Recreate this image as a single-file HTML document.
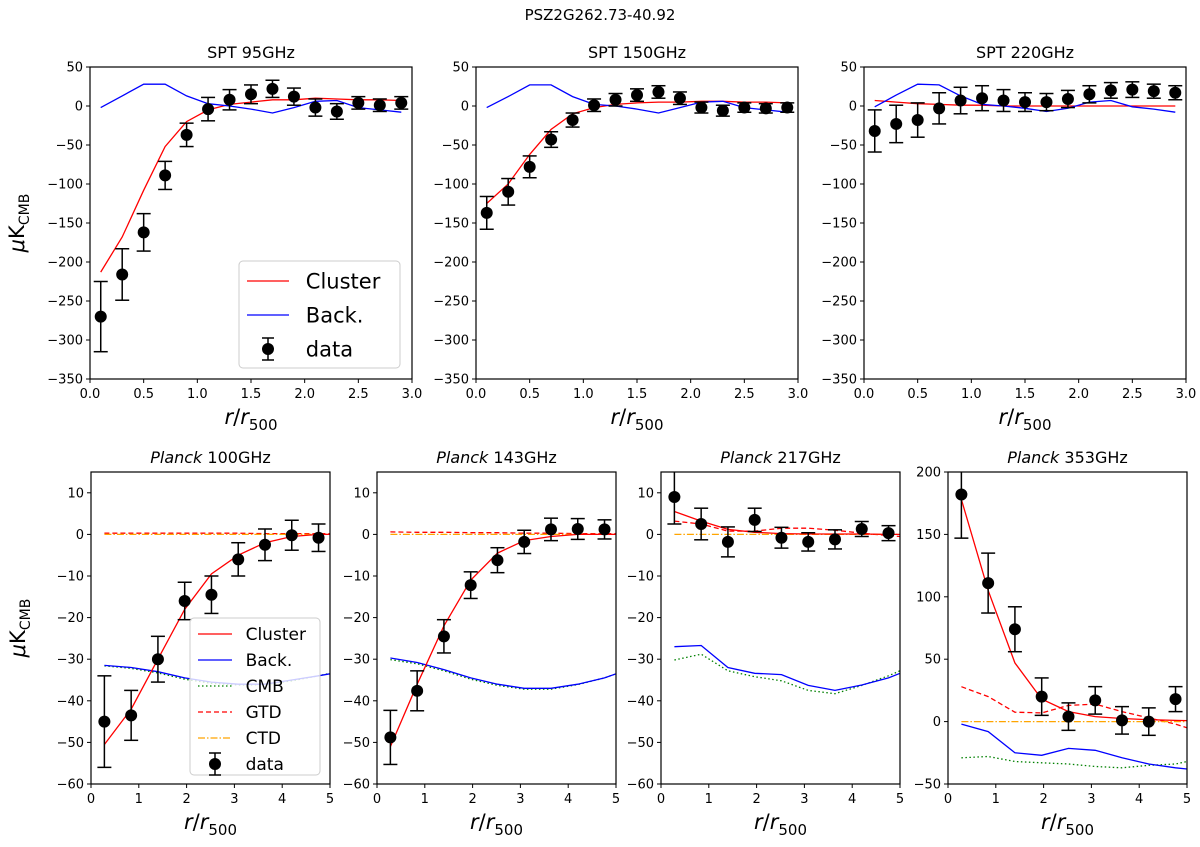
<!DOCTYPE html>
<html><head><meta charset="utf-8"><style>
body{margin:0;background:#fff}
svg text{font-family:"DejaVu Sans","Liberation Sans",sans-serif;fill:#000}
</style></head><body>
<svg id="fig" width="1200" height="842" viewBox="0 0 1200 842" xmlns="http://www.w3.org/2000/svg">
<text x="600" y="20" text-anchor="middle" font-size="15">PSZ2G262.73-40.92</text>
</svg>
<script>
const sptX=[0.1,0.3,0.5,0.7,0.9,1.1,1.3,1.5,1.7,1.9,2.1,2.3,2.5,2.7,2.9];
const spt95Data=[-270,-216,-162,-89,-37,-4,8,15,22,12,-2,-7,4,1,4];
const spt95Err=[45,33,24,18,15,15,13,12,11,11,11,10,8,8,8];
const spt95Cluster=[-213,-168,-108,-52,-20,-5,2,5,8,8,10,9,8,8,7];
const spt95Back=[-2,13,28,28,13,3,0,-4,-9,-2,6,7,-2,-5,-8];
const spt150Data=[-137,-110,-78,-43,-18,1,8,14,18,10,-2,-6,-2,-3,-2];
const spt150Err=[21,17,14,10,9,8,8,8,8,8,7,7,6,6,6];
const spt150Cluster=[-125,-100,-62,-30,-10,-2,2,4,5,5,6,6,5,5,4];
const spt150Back=[-2,12,27,27,12,2,0,-4,-9,-2,5,6,-2,-5,-8];
const spt220Data=[-32,-23,-18,-3,7,10,7,5,5,9,15,20,21,19,17];
const spt220Err=[27,24,22,20,17,16,14,12,11,11,11,10,10,9,9];
const spt220Cluster=[7,5,3,2,1,1,0,0,0,0,0,0,0,0,0];
const spt220Back=[-1,14,28,27,13,2,0,-3,-7,-3,5,7,-1,-4,-8];
const plX=[0.28,0.84,1.4,1.96,2.52,3.08,3.64,4.2,4.76];
const plLineX=[0.28,0.84,1.4,1.96,2.52,3.08,3.64,4.2,4.76,5.0];
const p100Data=[-45,-43.5,-30,-16,-14.5,-6,-2.5,-0.2,-0.8];
const p100Err=[11,6,5.5,4.5,4.5,4,3.8,3.6,3.3];
const p100Cluster=[-50.5,-42,-30,-18,-9.5,-5,-2,-0.5,0,0];
const p100Back=[-31.5,-32,-33,-34.5,-35.5,-36,-36,-35,-34,-33.5];
const p100Cmb=[-31.6,-32.2,-33.3,-34.8,-35.8,-36.2,-36.1,-35.2,-34,-33.4];
const p100Gtd=[0.3,0.3,0.3,0.3,0.3,0.3,0.2,0.2,0.2,0.2];
const p100Ctd=[0,0,0,0,0,0,0,0,0,0];
const p143Data=[-48.8,-37.6,-24.5,-12.2,-6.2,-1.8,1.2,1.3,1.2];
const p143Err=[6.5,4.8,4,3.2,3,2.8,2.7,2.5,2.3];
const p143Cluster=[-51,-36,-22,-11,-4.5,-1.5,-0.5,0,0,0];
const p143Back=[-29.7,-30.8,-32.5,-34.5,-36,-37,-37,-36,-34.5,-33.5];
const p143Cmb=[-30.1,-31.1,-32.8,-34.8,-36.3,-37.2,-37.2,-36.1,-34.5,-33.5];
const p143Gtd=[0.6,0.5,0.5,0.4,0.4,0.3,0.3,0.2,0.2,0.2];
const p143Ctd=[0,0,0,0,0,0,0,0,0,0];
const p217Data=[9,2.5,-1.8,3.5,-0.8,-1.8,-1.2,1.3,0.3];
const p217Err=[6.5,3.8,3.6,2.8,2.5,2.2,2.3,1.8,1.8];
const p217Cluster=[5.5,3.2,1.2,0.5,0.2,0.1,0.1,0.1,0,0];
const p217Back=[-27,-26.7,-32,-33.4,-33.7,-36.3,-37.5,-36.2,-34.5,-33.4];
const p217Cmb=[-30.2,-28.8,-32.8,-34.2,-35.2,-37.5,-38.3,-36.3,-34,-32.8];
const p217Gtd=[3.2,2.5,0.8,0.8,1.5,1.5,1,0.3,-0.3,-0.5];
const p217Ctd=[0,0,0,0,0,0,0,0,0,0];
const p353Data=[182,111,74,20,4,17,1,0,18];
const p353Err=[35,24,18,15,11,11,11,11,10];
const p353Cluster=[178,105,47,18,8,4,2.5,1.5,1,0.8];
const p353Back=[-2,-8,-25,-27,-21.5,-23,-29,-34,-37,-38];
const p353Cmb=[-29,-28,-32,-33,-34,-36,-37,-35,-34,-32];
const p353Gtd=[28,20,7.5,7,13,14,8,3,-2,-5];
const p353Ctd=[0,0,0,0,0,0,0,0,0,0];
const sptXTicks=[0,0.5,1,1.5,2,2.5,3];
const sptXTickLabels=["0.0","0.5","1.0","1.5","2.0","2.5","3.0"];
const sptYTicks=[50,0,-50,-100,-150,-200,-250,-300,-350];
const plXTicks=[0,1,2,3,4,5];
const plYTicks=[10,0,-10,-20,-30,-40,-50,-60];
const p353YTicks=[200,150,100,50,0,-50];

const NS="http://www.w3.org/2000/svg";
const svg=document.getElementById('fig');
function mk(tag,attrs,parent){const e=document.createElementNS(NS,tag);for(const k in attrs)e.setAttribute(k,attrs[k]);(parent||svg).appendChild(e);return e;}
function fmt(v){return v<0?'\u2212'+Math.abs(v):String(v);}

function panel(o){
  const g=mk('g',{});
  
  
  const sx=v=>o.x0+(v-o.xmin)/(o.xmax-o.xmin)*(o.x1-o.x0);
  const sy=v=>o.y1-(v-o.ymin)/(o.ymax-o.ymin)*(o.y1-o.y0);
  const cp='cp'+o.name;
  const defs=mk('defs',{},g);
  const c=mk('clipPath',{id:cp},defs);
  mk('rect',{x:o.x0,y:o.y0,width:o.x1-o.x0,height:o.y1-o.y0},c);
  const t=mk('text',{x:(o.x0+o.x1)/2,y:o.y0-9,'text-anchor':'middle','font-size':16},g);
  
  
  if(o.italic){const s=mk('tspan',{'font-style':'italic'},t);s.textContent=o.italic;t.appendChild(document.createTextNode(' '+o.title));}
  else t.textContent=o.title;
  const plot=mk('g',{'clip-path':'url(#'+cp+')'},g);
  const lineStyles={cluster:{stroke:'#ff0000'},back:{stroke:'#0000ff'},cmb:{stroke:'#008000','stroke-dasharray':'1.5,2.5'},gtd:{stroke:'#ff0000','stroke-dasharray':'5,3'},ctd:{stroke:'#ffa500','stroke-dasharray':'7,2,1.5,2'}};
  for(const s of o.lines){
    const d=s.y.map((v,i)=>(i?'L':'M')+sx(s.x[i]).toFixed(1)+','+sy(v).toFixed(1)).join('');
    const p=mk('path',Object.assign({d:d,fill:'none','stroke-width':1.3},lineStyles[s.k]),plot);
    
    
  }
  o.data.forEach((v,i)=>{
    const X=sx(o.dx[i]),e=o.err[i];
    const eg=mk('g',{},plot);
    
    
    mk('line',{x1:X,x2:X,y1:sy(v+e),y2:sy(v-e),stroke:'#000','stroke-width':1.5},eg);
    mk('line',{x1:X-7,x2:X+7,y1:sy(v+e),y2:sy(v+e),stroke:'#000','stroke-width':1.5},eg);
    mk('line',{x1:X-7,x2:X+7,y1:sy(v-e),y2:sy(v-e),stroke:'#000','stroke-width':1.5},eg);
    mk('circle',{cx:X,cy:sy(v),r:6,fill:'#000'},eg);
  });
  const fr=mk('rect',{x:o.x0,y:o.y0,width:o.x1-o.x0,height:o.y1-o.y0,fill:'none',stroke:'#000','stroke-width':1.2},g);
  
  
  o.xt.forEach((v,i)=>{
    mk('line',{x1:sx(v),x2:sx(v),y1:o.y1,y2:o.y1+4,stroke:'#000'},g);
    const tl=mk('text',{x:sx(v),y:o.y1+19,'text-anchor':'middle','font-size':13},g);
    
    
    tl.textContent=o.xtl?o.xtl[i]:String(v);
  });
  o.yt.forEach(v=>{
    mk('line',{x1:o.x0-4,x2:o.x0,y1:sy(v),y2:sy(v),stroke:'#000'},g);
    const tl=mk('text',{x:o.x0-7,y:sy(v)+4.5,'text-anchor':'end','font-size':13},g);
    
    
    tl.textContent=fmt(v);
  });
  const xl=mk('text',{x:(o.x0+o.x1)/2,y:o.y1+45,'text-anchor':'middle','font-size':21},g);
  
  
  xl.innerHTML='<tspan font-style="italic">r</tspan>/<tspan font-style="italic">r</tspan><tspan font-size="15" dy="6">500</tspan>';
  if(o.ylabel){
    const yl=mk('text',{transform:'translate('+(o.x0-66)+','+((o.y0+o.y1)/2)+') rotate(-90)','text-anchor':'middle','font-size':21},g);
    
    
    yl.innerHTML='<tspan font-style="italic">\u03bc</tspan>K<tspan font-size="14" dy="5">CMB</tspan>';
  }
  return {sx,sy};
}
const T={y0:67,y1:379,xmin:0,xmax:3,ymin:-350,ymax:50,xt:sptXTicks,xtl:sptXTickLabels,yt:sptYTicks};
panel(Object.assign({},T,{name:'spt-95',title:'SPT 95GHz',x0:90,x1:412,ylabel:true,dx:sptX,data:spt95Data,err:spt95Err,lines:[{k:'cluster',x:sptX,y:spt95Cluster},{k:'back',x:sptX,y:spt95Back}]}));
panel(Object.assign({},T,{name:'spt-150',title:'SPT 150GHz',x0:476,x1:798,dx:sptX,data:spt150Data,err:spt150Err,lines:[{k:'cluster',x:sptX,y:spt150Cluster},{k:'back',x:sptX,y:spt150Back}]}));
panel(Object.assign({},T,{name:'spt-220',title:'SPT 220GHz',x0:864,x1:1186,dx:sptX,data:spt220Data,err:spt220Err,lines:[{k:'cluster',x:sptX,y:spt220Cluster},{k:'back',x:sptX,y:spt220Back}]}));
const B={y0:472,y1:784,xmin:0,xmax:5,ymin:-60,ymax:15,xt:plXTicks,yt:plYTicks};
function pl(c,b,m,gt,ct){return [{k:'cmb',x:plLineX,y:m},{k:'back',x:plLineX,y:b},{k:'gtd',x:plLineX,y:gt},{k:'ctd',x:plLineX,y:ct},{k:'cluster',x:plLineX,y:c}];}
panel(Object.assign({},B,{name:'planck-100',italic:'Planck',title:'100GHz',x0:91,x1:330,ylabel:true,dx:plX,data:p100Data,err:p100Err,lines:pl(p100Cluster,p100Back,p100Cmb,p100Gtd,p100Ctd)}));
panel(Object.assign({},B,{name:'planck-143',italic:'Planck',title:'143GHz',x0:377,x1:616,dx:plX,data:p143Data,err:p143Err,lines:pl(p143Cluster,p143Back,p143Cmb,p143Gtd,p143Ctd)}));
panel(Object.assign({},B,{name:'planck-217',italic:'Planck',title:'217GHz',x0:661,x1:900,dx:plX,data:p217Data,err:p217Err,lines:pl(p217Cluster,p217Back,p217Cmb,p217Gtd,p217Ctd)}));
panel(Object.assign({},B,{name:'planck-353',italic:'Planck',title:'353GHz',x0:948,x1:1187,ymin:-50,ymax:200,yt:p353YTicks,dx:plX,data:p353Data,err:p353Err,lines:pl(p353Cluster,p353Back,p353Cmb,p353Gtd,p353Ctd)}));

function legend(name,x,y,w,h,fs,rowH,items){
  const g=mk('g',{});
  
  
  mk('rect',{x:x,y:y,width:w,height:h,rx:4,fill:'rgba(255,255,255,0.8)',stroke:'#ccc'},g);
  const st={cluster:{stroke:'#ff0000'},back:{stroke:'#0000ff'},cmb:{stroke:'#008000','stroke-dasharray':'1.5,2.5'},gtd:{stroke:'#ff0000','stroke-dasharray':'5,3'},ctd:{stroke:'#ffa500','stroke-dasharray':'7,2,1.5,2'}};
  items.forEach((it,i)=>{
    const cy=y+rowH*(i+0.5)+3;
    const eg=mk('g',{},g);
    
    
    const lx=x+8,lw=fs*2;
    if(it[0]==='data'){
      const cx=lx+lw/2;
      mk('line',{x1:cx,x2:cx,y1:cy-11,y2:cy+11,stroke:'#000','stroke-width':1.5},eg);
      mk('line',{x1:cx-6,x2:cx+6,y1:cy-11,y2:cy-11,stroke:'#000','stroke-width':1.5},eg);
      mk('line',{x1:cx-6,x2:cx+6,y1:cy+11,y2:cy+11,stroke:'#000','stroke-width':1.5},eg);
      mk('circle',{cx:cx,cy:cy,r:6,fill:'#000'},eg);
    } else mk('line',Object.assign({x1:lx,x2:lx+lw,y1:cy,y2:cy,'stroke-width':1.3},st[it[0]]),eg);
    const t=mk('text',{x:lx+lw+fs*0.8,y:cy+fs*0.36,'font-size':fs},eg);
    t.textContent=it[1];
  });
}
legend('legend-spt',239,261,161,107,21,34,[['cluster','Cluster'],['back','Back.'],['data','data']]);
legend('legend-planck',190,618,130,157,17,26,[['cluster','Cluster'],['back','Back.'],['cmb','CMB'],['gtd','GTD'],['ctd','CTD'],['data','data']]);
</script>
</body></html>
